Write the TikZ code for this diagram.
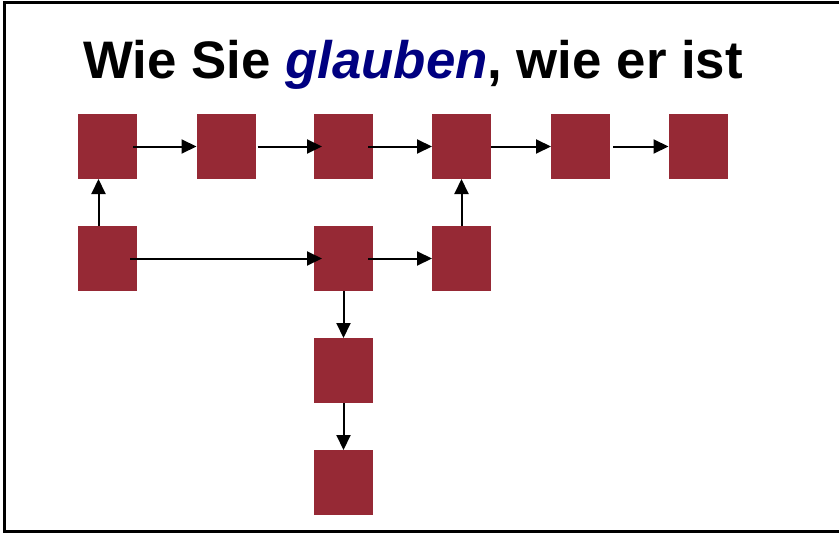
\documentclass[tikz,border=0pt]{standalone}
\usepackage{fontspec}
\setmainfont{Liberation Sans}
\usetikzlibrary{arrows.meta}
\definecolor{boxred}{RGB}{150,41,53}
\definecolor{navyblue}{RGB}{0,0,128}
\tikzset{
  blk/.style={fill=boxred, draw=none, minimum width=59pt, minimum height=65pt, inner sep=0pt, outer sep=0pt},
  arr/.style={line width=2pt, -{Triangle[length=15pt,width=14pt]}},
  frame/.style={line width=3pt}
}
\begin{document}
\begin{tikzpicture}[x=1pt,y=-1pt]
\useasboundingbox (0,0) rectangle (839,533);
\clip (0,0) rectangle (839,533);
\fill[white] (0,0) rectangle (839,533);
\draw[frame] (845,2.5) -- (4.5,2.5) -- (4.5,531) -- (845,531);
\node[anchor=base west, inner sep=0pt, font=\fontsize{52.8}{60}\selectfont\bfseries] (title) at (83,78)
  {Wie Sie \textcolor{navyblue}{\itshape glauben}, wie er ist};
% row 1
\node[blk] (a1) at (107.5,146.5) {};
\node[blk] (a2) at (226,146.5) {};
\node[blk] (a3) at (343.5,146.5) {};
\node[blk] (a4) at (461.5,146.5) {};
\node[blk] (a5) at (580.5,146.5) {};
\node[blk] (a6) at (698,146.5) {};
% row 2
\node[blk] (b1) at (107.5,258.5) {};
\node[blk] (b3) at (343.5,258.5) {};
\node[blk] (b4) at (461.5,258.5) {};
% column
\node[blk] (c3) at (343.5,370.5) {};
\node[blk] (d3) at (343.5,482.5) {};
% arrows row 1
\draw[arr] ([xshift=-4pt]a1.east) -- (a2.west);
\draw[arr] ([xshift=2pt]a2.east) -- ([xshift=8pt]a3.west);
\draw[arr] ([xshift=-5pt]a3.east) -- (a4.west);
\draw[arr] (a4.east) -- (a5.west);
\draw[arr] ([xshift=3pt]a5.east) -- (a6.west);
% arrows row 2
\draw[arr] ([xshift=-7pt]b1.east) -- ([xshift=8pt]b3.west);
\draw[arr] ([xshift=-5pt]b3.east) -- (b4.west);
% vertical
\draw[arr] ([xshift=-9pt]b1.north) -- ([xshift=-9pt]a1.south);
\draw[arr] (b4.north) -- (a4.south);
\draw[arr] (b3.south) -- (c3.north);
\draw[arr] (c3.south) -- (d3.north);
\end{tikzpicture}
\end{document}
